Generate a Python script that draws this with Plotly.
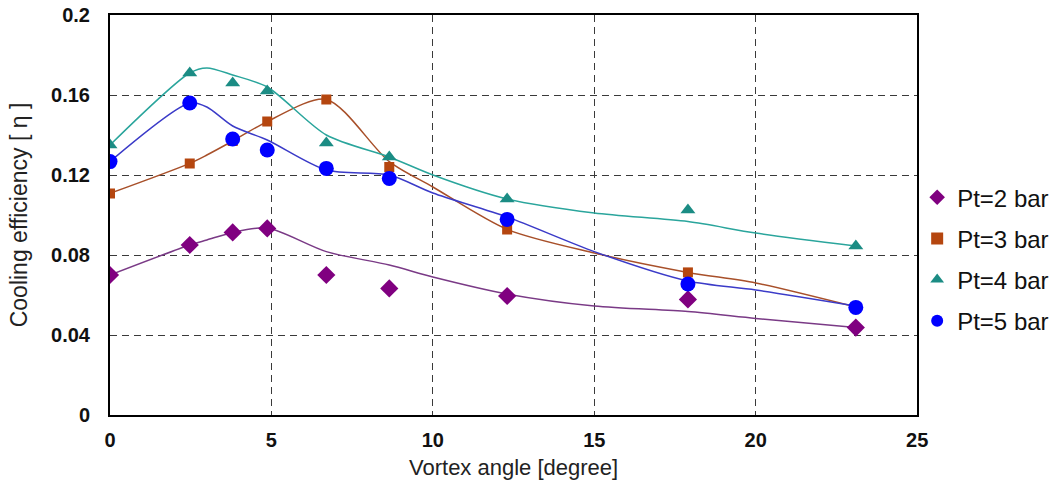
import plotly.graph_objects as go

# Vortex angle (degree)
angles = [0, 2.47, 3.8, 4.87, 6.7, 8.65, 12.3, 17.9, 23.1]

# Measured cooling efficiency
pt2_pts = [0.070, 0.085, 0.0913, 0.0933, 0.070, 0.0633, 0.0595, 0.0578, 0.0437]
pt3_pts = [0.1108, 0.1258, 0.137, 0.1467, 0.1578, 0.124, 0.0928, 0.0713, 0.054]
pt4_pts = [0.135, 0.171, 0.166, 0.162, 0.136, 0.129, 0.108, 0.1025, 0.0845]
pt5_pts = [0.1267, 0.156, 0.138, 0.1325, 0.1233, 0.1183, 0.0978, 0.0655, 0.0538]

# Smoothed trend lines
line_x = [0, 2.47, 3.0, 3.8, 4.87, 6.7, 8.65, 10, 12.3, 15, 17.9, 20, 23.1]
pt2_line = [0.070, 0.085, 0.0875, 0.0913, 0.0935, 0.0817, 0.075, 0.069, 0.0605, 0.0545, 0.0517, 0.0483, 0.0437]
pt3_line = [0.1108, 0.1258, 0.130, 0.137, 0.1467, 0.1578, 0.1267, 0.114, 0.0928, 0.081, 0.0713, 0.066, 0.054]
pt4_line = [0.135, 0.171, 0.1735, 0.170, 0.164, 0.140, 0.129, 0.120, 0.108, 0.101, 0.0967, 0.091, 0.0845]
pt5_line = [0.1267, 0.156, 0.154, 0.1445, 0.1375, 0.1225, 0.120, 0.111, 0.099, 0.0817, 0.067, 0.0625, 0.0545]

labels = ["Pt=2 bar", "Pt=3 bar", "Pt=4 bar", "Pt=5 bar"]
pts = [pt2_pts, pt3_pts, pt4_pts, pt5_pts]
lines = [pt2_line, pt3_line, pt4_line, pt5_line]
mcolors = ["#800080", "#B5460F", "#1B8C84", "#0000FF"]
lcolors = ["#7A3A86", "#A8502A", "#2AA59C", "#3B3BC8"]
symbols = ["diamond", "square", "triangle-up", "circle"]
sizes = [14, 10, 13, 15]

x_ticks = [0, 5, 10, 15, 20, 25]
y_ticks = [0, 0.04, 0.08, 0.12, 0.16, 0.2]
y_ticklabels = ["0", "0.04", "0.08", "0.12", "0.16", "0.2"]

fig = go.Figure()
for ly, c in zip(lines, lcolors):
    fig.add_trace(go.Scatter(x=line_x, y=ly, mode="lines",
                             line=dict(color=c, width=1.5, shape="spline", smoothing=0.8),
                             showlegend=False, hoverinfo="skip"))
for i, (lab, p, c, s, sz) in enumerate(zip(labels, pts, mcolors, symbols, sizes)):
    fig.add_trace(go.Scatter(x=angles, y=p, mode="markers", name=lab, legendgroup=f"g{i}",
                             marker=dict(color=c, symbol=s, size=sz, line=dict(width=0))))

font = "Arial, Liberation Sans, sans-serif"
grid = dict(showgrid=True, gridcolor="#3a3a3a", griddash="7px,5px", gridwidth=1.2,
            showline=True, linecolor="black", linewidth=2, mirror=True,
            ticks="", zeroline=False, automargin=False,
            tickfont=dict(size=20, color="#111", family=font))
fig.update_layout(
    width=1064, height=481,
    margin=dict(l=110, r=145, t=15, b=66),
    paper_bgcolor="white", plot_bgcolor="white",
    font=dict(family=font, color="#222"),
    legend=dict(xref="container", yref="container", x=0.862, y=0.636,
                xanchor="left", yanchor="top",
                font=dict(size=24, family=font, color="#111"),
                itemsizing="constant", tracegroupgap=7, bgcolor="rgba(0,0,0,0)"),
    xaxis=dict(range=[0, 25], tickvals=x_ticks, ticktext=[f"<b>{v}</b>" for v in x_ticks],
               ticklabelstandoff=6,
               title=dict(text="Vortex angle [degree]", font=dict(size=22, color="#222"), standoff=10),
               **grid),
    yaxis=dict(range=[0, 0.2], tickvals=y_ticks, ticktext=[f"<b>{t}</b>" for t in y_ticklabels],
               ticklabelstandoff=14,
               title=dict(text="Cooling efficiency [ η ]", font=dict(size=23, color="#222"), standoff=17),
               **grid),
)

fig.write_html("out.html", config={"displayModeBar": False},
               post_script="document.body.style.margin='0';document.body.style.overflow='hidden';")
